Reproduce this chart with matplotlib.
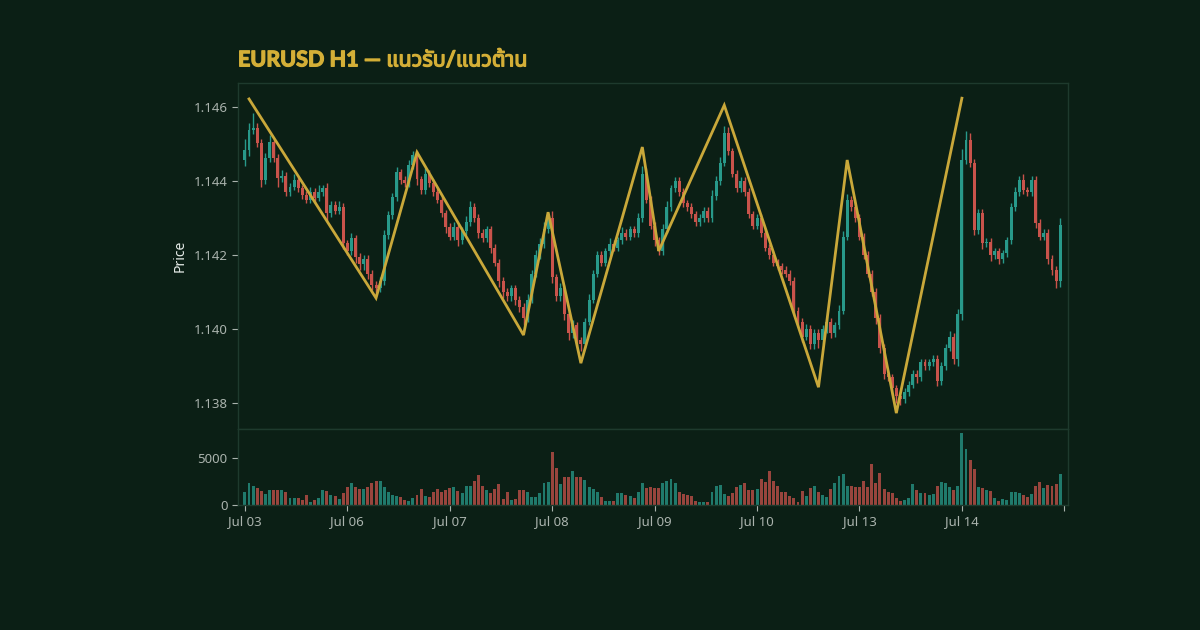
import numpy as np
import matplotlib
matplotlib.use("Agg")
import matplotlib.pyplot as plt
import matplotlib.patheffects as pe

# hourly closes
close = [
    1.14484, 1.14538, 1.14543, 1.14503, 1.14403, 1.14462, 1.14505, 1.14462, 1.14408, 1.14415,
    1.14370, 1.14385, 1.14403, 1.14380, 1.14362, 1.14350, 1.14370, 1.14355, 1.14370, 1.14380,
    1.14313, 1.14335, 1.14320, 1.14330, 1.14232, 1.14210, 1.14245, 1.14195, 1.14175, 1.14190,
    1.14150, 1.14120, 1.14110, 1.14130, 1.14254, 1.14308, 1.14357, 1.14424, 1.14403, 1.14395,
    1.14443, 1.14470, 1.14405, 1.14376, 1.14420, 1.14395, 1.14370, 1.14350, 1.14313, 1.14276,
    1.14250, 1.14275, 1.14240, 1.14265, 1.14290, 1.14330, 1.14300, 1.14260, 1.14245, 1.14270,
    1.14220, 1.14180, 1.14130, 1.14100, 1.14090, 1.14110, 1.14080, 1.14060, 1.14030, 1.14080,
    1.14150, 1.14200, 1.14230, 1.14270, 1.14300, 1.14140, 1.14090, 1.14110, 1.14040, 1.13990,
    1.14010, 1.13970, 1.13960, 1.14020, 1.14080, 1.14150, 1.14200, 1.14180, 1.14210, 1.14230,
    1.14220, 1.14240, 1.14260, 1.14250, 1.14270, 1.14260, 1.14300, 1.14420, 1.14350, 1.14280,
    1.14240, 1.14210, 1.14270, 1.14330, 1.14380, 1.14400, 1.14370, 1.14340, 1.14330, 1.14310,
    1.14290, 1.14300, 1.14320, 1.14300, 1.14360, 1.14400, 1.14450, 1.14530, 1.14480, 1.14420,
    1.14380, 1.14400, 1.14370, 1.14310, 1.14280, 1.14300, 1.14260, 1.14220, 1.14200, 1.14180,
    1.14170, 1.14160, 1.14150, 1.14130, 1.14050, 1.14020, 1.13980, 1.14000, 1.13960, 1.13990,
    1.13970, 1.14000, 1.14020, 1.13990, 1.14010, 1.14050, 1.14250, 1.14350, 1.14330, 1.14300,
    1.14250, 1.14200, 1.14150, 1.14100, 1.14030, 1.13950, 1.13880, 1.13870, 1.13840, 1.13820,
    1.13810, 1.13830, 1.13850, 1.13880, 1.13870, 1.13910, 1.13900, 1.13910, 1.13920, 1.13860,
    1.13900, 1.13950, 1.13980, 1.13920, 1.14040, 1.14457, 1.14511, 1.14449, 1.14268, 1.14314,
    1.14232, 1.14235, 1.14200, 1.14210, 1.14190, 1.14205, 1.14240, 1.14330, 1.14370, 1.14403,
    1.14375, 1.14370, 1.14403, 1.14287, 1.14250, 1.14260, 1.14190, 1.14160, 1.14130, 1.14281,
]
first_open = 1.14457

# wick lengths beyond the body, in 1e-5 price units
wick_up = [
    30, 20, 40, 15, 10, 15, 20, 10, 10, 15, 10, 10, 15, 10, 10, 10, 15, 10, 20, 10,
    15, 10, 10, 15, 10, 10, 15, 10, 10, 10, 10, 10, 10, 10, 15, 10, 10, 15, 10, 10,
    15, 10, 10, 10, 15, 10, 10, 10, 10, 10, 10, 15, 10, 10, 15, 15, 10, 10, 10, 10,
    10, 10, 10, 10, 10, 10, 10, 10, 10, 15, 10, 15, 15, 20, 15, 20, 10, 15, 10, 10,
    15, 10, 10, 10, 15, 10, 10, 10, 10, 15, 10, 10, 15, 10, 10, 10, 15, 20, 15, 10,
    10, 10, 15, 15, 10, 10, 10, 10, 10, 10, 10, 10, 10, 10, 15, 15, 15, 20, 15, 10,
    10, 10, 10, 10, 10, 10, 10, 10, 10, 10, 10, 10, 10, 10, 10, 10, 10, 15, 10, 10,
    10, 10, 15, 10, 10, 15, 15, 15, 10, 10, 10, 10, 10, 10, 10, 10, 10, 10, 10, 10,
    10, 10, 10, 10, 10, 10, 10, 10, 10, 10, 10, 10, 15, 10, 15, 30, 25, 20, 10, 10,
    10, 10, 10, 10, 10, 10, 10, 10, 15, 10, 15, 10, 10, 10, 10, 10, 10, 10, 10, 20,
]
wick_dn = [
    15, 15, 10, 10, 20, 10, 10, 10, 25, 10, 10, 10, 10, 10, 10, 10, 10, 15, 10, 10,
    20, 10, 10, 10, 15, 10, 10, 15, 15, 15, 15, 15, 20, 10, 10, 10, 10, 10, 10, 10,
    10, 10, 15, 10, 10, 10, 10, 10, 10, 15, 10, 10, 15, 10, 10, 10, 10, 15, 10, 10,
    15, 10, 15, 15, 15, 15, 15, 15, 20, 10, 10, 10, 10, 10, 10, 15, 15, 15, 15, 20,
    15, 15, 20, 10, 10, 10, 10, 10, 10, 10, 10, 10, 10, 10, 10, 10, 10, 10, 10, 10,
    15, 10, 10, 10, 10, 10, 10, 10, 10, 10, 10, 10, 10, 10, 10, 10, 10, 10, 10, 10,
    10, 10, 10, 10, 10, 10, 10, 10, 10, 10, 10, 10, 10, 10, 15, 15, 15, 10, 15, 15,
    20, 10, 10, 15, 10, 10, 10, 10, 10, 10, 10, 10, 10, 10, 15, 15, 15, 10, 15, 20,
    15, 10, 10, 10, 15, 10, 10, 10, 10, 15, 10, 10, 10, 15, 20, 15, 10, 10, 15, 10,
    15, 10, 15, 10, 15, 10, 10, 10, 10, 10, 10, 10, 10, 15, 10, 10, 15, 15, 20, 15,
]

volume = [
    1420, 2380, 2020, 1780, 1530, 1170, 1600, 1600, 1600, 1600, 1420, 710, 710, 710, 530, 1070, 355, 530, 710, 1600,
    1530, 1070, 960, 640, 1240, 1950, 2380, 1950, 1670, 1670, 1950, 2310, 2520, 2560, 1880, 1420, 1070, 960, 890, 530,
    430, 710, 1030, 1700, 960, 890, 1420, 1700, 1420, 1600, 1780, 1950, 1530, 1310, 2020, 2060, 2560, 3200, 2060, 1600,
    1240, 1670, 2200, 640, 1350, 530, 640, 1600, 1600, 1350, 820, 890, 1310, 2380, 2490, 5680, 3900, 2240, 3020, 2950,
    3620, 2950, 2950, 2660, 1880, 1700, 1420, 820, 460, 430, 460, 1310, 1310, 1070, 960, 780, 1420, 2380, 1850, 1950,
    1780, 1780, 2310, 2560, 2770, 2310, 1420, 1170, 1070, 960, 430, 355, 355, 355, 1420, 2020, 2130, 1170, 960, 1240,
    1950, 2130, 2380, 1600, 1600, 1700, 2770, 2490, 3620, 2560, 2060, 1420, 1350, 960, 780, 280, 1530, 960, 1780, 2020,
    1420, 1070, 890, 1700, 2380, 3120, 3300, 2020, 2020, 1950, 1950, 2560, 1950, 4370, 2380, 3440, 1700, 1420, 1310, 710,
    460, 530, 710, 2240, 1600, 1240, 1310, 1070, 1170, 2060, 2450, 2310, 1950, 1600, 2020, 7700, 5930, 4790, 3800, 1950,
    1780, 1600, 1490, 710, 430, 640, 530, 1350, 1420, 1240, 1070, 820, 1170, 2060, 2420, 1850, 2130, 2060, 2200, 3270,
]

# zigzag pivots (bar index, price)
zz_idx = [1, 32, 42, 68, 74, 82, 97, 101, 117, 140, 147, 159, 175]
zz_price = [1.14622, 1.14084, 1.14478, 1.13984, 1.14316, 1.13908, 1.14492, 1.14211,
            1.14605, 1.13843, 1.14457, 1.13773, 1.14624]

tick_idx = [0, 25, 50, 75, 100, 125, 150, 175, 200]
tick_labels = ["Jul 03", "Jul 06", "Jul 07", "Jul 08", "Jul 09", "Jul 10", "Jul 13", "Jul 14", ""]

BG = "#0b1f15"
UP = "#28998a"
DOWN = "#c9534b"
GOLD = "#c9a83a"
GRID = "#1e3a2d"
TXT = "#aab3ad"
TITLE = "#d4af37"

close = np.array(close)
opens = np.concatenate([[first_open], close[:-1]])
highs = np.maximum(opens, close) + np.array(wick_up) * 1e-5
lows = np.minimum(opens, close) - np.array(wick_dn) * 1e-5
x = np.arange(len(close))
up = close >= opens
colors = np.where(up, UP, DOWN)

plt.rcParams["font.family"] = ["Noto Sans", "DejaVu Sans"]

fig = plt.figure(figsize=(12, 6.3), dpi=100, facecolor=BG)
ax = fig.add_axes([0.1983, 0.3190, 0.6917, 0.5492], facecolor=BG)
axv = fig.add_axes([0.1983, 0.1984, 0.6917, 0.1206], facecolor=BG, sharex=ax)

# candles
ax.vlines(x, lows, highs, colors=colors, linewidth=1)
ax.bar(x, np.abs(close - opens), bottom=np.minimum(opens, close), width=0.72,
       color=colors, linewidth=0)
ax.plot(zz_idx, zz_price, color=GOLD, linewidth=2, solid_joinstyle="miter")

axv.bar(x, volume, width=0.72, color=colors, alpha=0.75, linewidth=0)

ax.set_xlim(-1.7, 200.9)
ax.set_ylim(1.13730, 1.14665)
ax.set_yticks([1.138, 1.140, 1.142, 1.144, 1.146])
ax.set_yticklabels(["1.138", "1.140", "1.142", "1.144", "1.146"])
axv.set_ylim(0, 8100)
axv.set_yticks([0, 5000])
axv.set_xticks(tick_idx)
axv.set_xticklabels(tick_labels)
ax.tick_params(axis="x", which="both", bottom=False, labelbottom=False)

for a in (ax, axv):
    a.tick_params(colors=TXT, labelsize=9.5, length=4, width=0.8)
    for s in a.spines.values():
        s.set_color(GRID)
        s.set_linewidth(1)
    a.grid(False)

ax.set_ylabel("Price", color="#e6ece8", fontsize=10, labelpad=4)

# the Thai font has no bold face, so thicken the glyphs with a stroke
title_fonts = ["Lato", "Noto Sans Thai", "Noto Sans Thai Looped", "Kanit", "Prompt",
               "Sarabun", "Loma", "Garuda", "Waree", "DejaVu Sans"]
fig.text(0.1983, 0.905, "EURUSD H1 — แนวรับ/แนวต้าน", color=TITLE,
         fontsize=15.5, fontweight="bold", ha="left", va="center", family=title_fonts,
         path_effects=[pe.withStroke(linewidth=0.9, foreground=TITLE)])

fig.savefig("out.png", dpi=100, facecolor=BG)
